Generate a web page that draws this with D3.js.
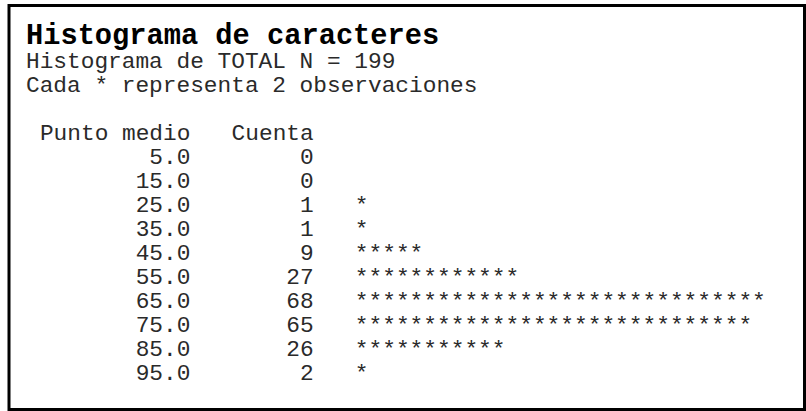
<!DOCTYPE html>
<html>
<head>
<meta charset="utf-8">
<script src="https://cdn.jsdelivr.net/npm/d3@7"></script>
<style>
  body { margin: 0; background: #fff; }
  text { font-family: "Courier New", "Liberation Mono", monospace; fill: #2a2a2a; }
</style>
</head>
<body>
<svg id="chart" width="806" height="411"></svg>
<script>
//----------data----------
const titleText = "Histograma de caracteres";
const subtitleLines = ["Histograma de TOTAL N = 199", "Cada * representa 2 observaciones"];
const headers = ["Punto medio", "Cuenta"];
const midpoints = ["5.0", "15.0", "25.0", "35.0", "45.0", "55.0", "65.0", "75.0", "85.0", "95.0"];
const counts = [0, 0, 1, 1, 9, 27, 68, 65, 26, 2];
const stars = [0, 0, 1, 1, 5, 12, 30, 29, 11, 1];

const svg = d3.select("#chart");

// frame
svg.append("rect")
  .attr("x", 9).attr("y", 5.5)
  .attr("width", 795.5).attr("height", 404)
  .attr("fill", "none")
  .attr("stroke", "#000")
  .attr("stroke-width", 3);

// character grid: column index -> x
const cw = 13.7;
const col = d3.scaleLinear().domain([0, 1]).range([26, 26 + cw]);

// title + subtitles
svg.append("text")
  .attr("x", col(0)).attr("y", 44)
  .style("font-size", "28.7px")
  .style("font-weight", "bold")
  .style("fill", "#000")
  .text(titleText);

svg.selectAll(".sub")
  .data(subtitleLines)
  .enter().append("text")
  .attr("class", "sub")
  .attr("x", col(0))
  .attr("y", (d, i) => 68 + i * 24)
  .style("font-size", "22.8px")
  .text(d => d);

// rows
const y = d3.scalePoint().domain(midpoints).range([164, 380]);

// column headers (right edges at col 12 and col 21)
svg.selectAll(".hdr")
  .data(headers)
  .enter().append("text")
  .attr("class", "hdr")
  .attr("x", (d, i) => col(i == 0 ? 12 : 21))
  .attr("y", 140)
  .attr("text-anchor", "end")
  .style("font-size", "22.8px")
  .text(d => d);

const rows = svg.selectAll(".row")
  .data(midpoints.map((m, i) => ({m: m, n: counts[i], s: stars[i]})))
  .enter().append("g")
  .attr("class", "row")
  .attr("transform", d => `translate(0,${y(d.m)})`);

rows.append("text")
  .attr("x", col(12))
  .attr("text-anchor", "end")
  .style("font-size", "22.8px")
  .text(d => d.m);

rows.append("text")
  .attr("x", col(21))
  .attr("text-anchor", "end")
  .style("font-size", "22.8px")
  .text(d => d.n);

// the bars: one * per cell starting at col 24
rows.selectAll(".star")
  .data(d => d3.range(d.s))
  .enter().append("text")
  .attr("class", "star")
  .attr("x", k => col(24 + k))
  .style("font-size", "22.8px")
  .text("*");
</script>
</body>
</html>
